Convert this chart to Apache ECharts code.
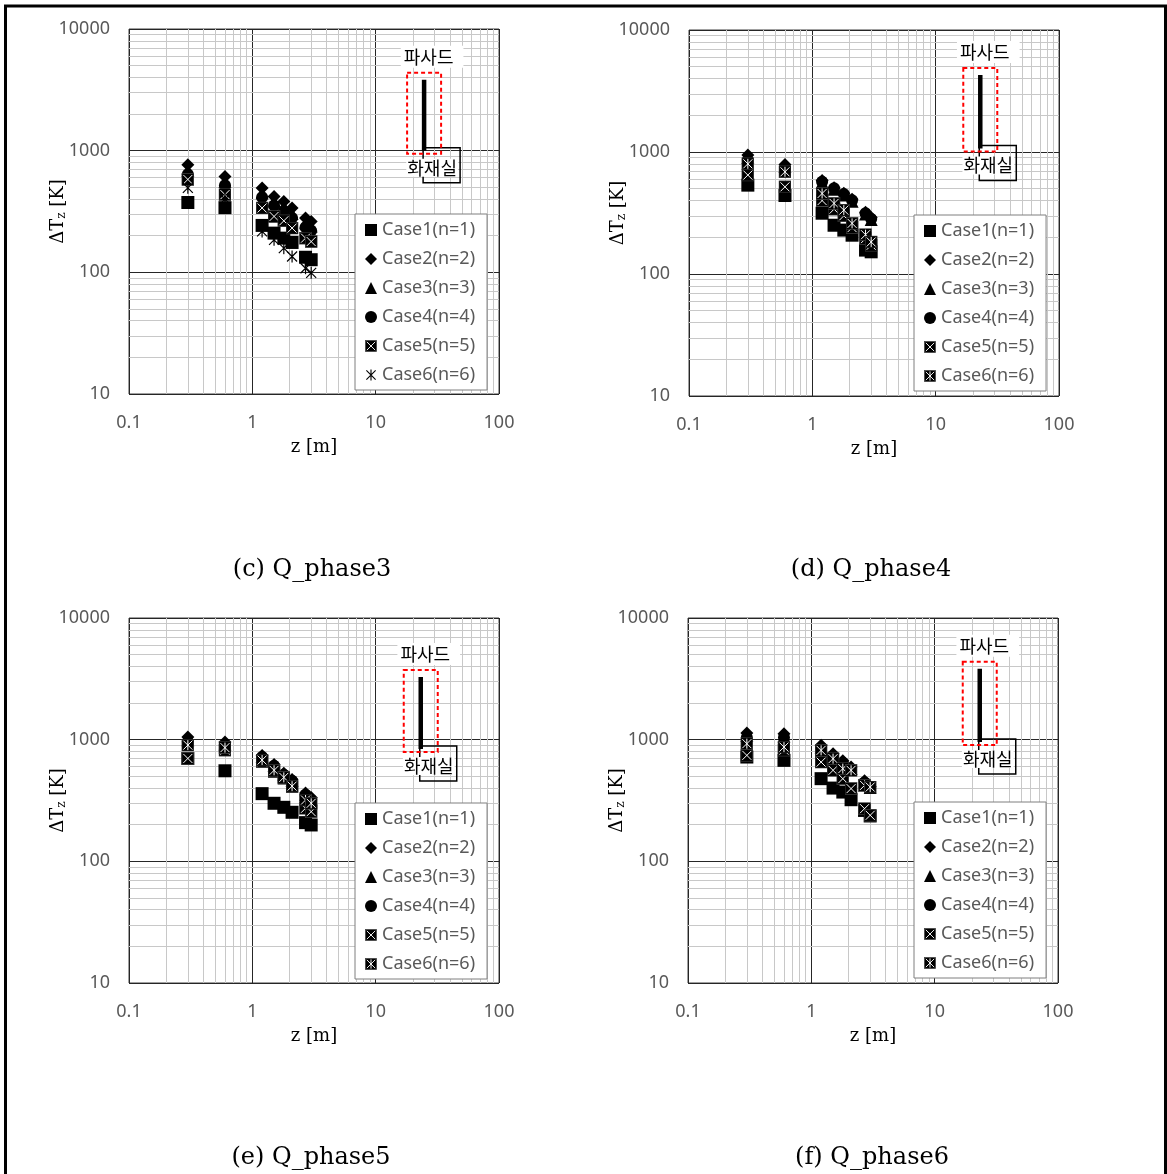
<!DOCTYPE html>
<html>
<head>
<meta charset="utf-8">
<script src="https://cdn.jsdelivr.net/npm/echarts@6/dist/echarts.min.js"></script>
<style>
  html, body { margin: 0; padding: 0; background: #fff; }
  #chart { width: 1167px; height: 1174px; }
</style>
</head>
<body>
<div id="chart"></div>
<script>
// distance from the floor (m)
const zValues = [0.3, 0.6, 1.2, 1.5, 1.8, 2.1, 2.7, 3.0];
const caseNames = ['Case1(n=1)', 'Case2(n=2)', 'Case3(n=3)', 'Case4(n=4)', 'Case5(n=5)', 'Case6(n=6)'];
const panelTitles = ['(c) Q_phase3', '(d) Q_phase4', '(e) Q_phase5', '(f) Q_phase6'];

// ΔTz [K], one row per case
const phase3 = [
  [375, 340, 243, 210, 191, 176, 133, 127],
  [766, 614, 493, 420, 383, 338, 279, 262],
  [690, 560, 450, 385, 350, 305, 255, 240],
  [640, 520, 415, 355, 320, 280, 235, 220],
  [580, 435, 338, 288, 265, 231, 191, 179],
  [495, 400, 217, 185, 158, 135, 108, 99]
];
const phase4 = [
  [535, 440, 315, 251, 229, 208, 157, 152],
  [943, 790, 585, 510, 460, 410, 320, 290],
  [900, 760, 565, 495, 445, 395, 310, 280],
  [860, 740, 570, 505, 452, 403, 315, 282],
  [647, 518, 400, 340, 300, 240, 195, 172],
  [800, 688, 457, 379, 334, 260, 210, 183]
];
const phase5 = [
  [700, 555, 360, 300, 278, 253, 208, 199],
  [1054, 959, 740, 625, 530, 470, 365, 335],
  [1000, 920, 730, 615, 520, 465, 355, 325],
  [960, 900, 719, 610, 515, 460, 352, 320],
  [701, 820, 658, 545, 481, 410, 273, 256],
  [902, 860, 680, 560, 490, 415, 319, 300]
];
const phase6 = [
  [720, 676, 478, 400, 371, 321, 262, 236],
  [1133, 1120, 898, 767, 672, 596, 460, 413],
  [1080, 1070, 870, 745, 655, 580, 450, 405],
  [1040, 1040, 860, 735, 645, 575, 445, 400],
  [743, 820, 654, 560, 478, 396, 271, 239],
  [927, 869, 817, 698, 578, 560, 421, 408]
];
const phases = [phase3, phase4, phase5, phase6];

// facade marker line (x, bottom, top) per panel
const facadeX = [24.7, 23.0, 23.2, 23.2];
const facadeBottom = [1000, 1070, 840, 955];
const facadeTop = [3830, 4280, 3270, 3830];

// minor grid lines
const xMinor = [0.2, 0.3, 0.4, 0.5, 0.6, 0.7, 0.8, 0.9, 2, 3, 4, 5, 6, 7, 8, 9, 20, 30, 40, 50, 60, 70, 80, 90];
const yMinor = [20, 30, 40, 50, 60, 70, 80, 90, 200, 300, 400, 500, 600, 700, 800, 900,
                2000, 3000, 4000, 5000, 6000, 7000, 8000, 9000];

const grids = [
  { left: 129, top: 29, width: 370, height: 365 },
  { left: 689, top: 30, width: 370, height: 366 },
  { left: 129, top: 618, width: 370, height: 365 },
  { left: 688, top: 618, width: 370, height: 365 }
];
const legendPos = [[355, 214], [914, 215], [355, 803], [914, 802]];
const titlePos = [[312, 570], [871, 570], [311, 1158], [872, 1158]];

function svgIcon(body) {
  const svg = "<svg xmlns='http://www.w3.org/2000/svg' width='26' height='26' viewBox='0 0 26 26'>" + body + "</svg>";
  return 'image://data:image/svg+xml;charset=utf-8,' + encodeURIComponent(svg);
}
const boxX = svgIcon("<rect x='1' y='1' width='24' height='24' fill='#000' stroke='#404040' stroke-width='1.5'/>" +
  "<path d='M4 4L22 22M22 4L4 22' stroke='#fff' stroke-width='2'/>");
const boxStar = svgIcon("<rect x='1' y='1' width='24' height='24' fill='#000' stroke='#404040' stroke-width='1.5'/>" +
  "<path d='M4 4L22 22M22 4L4 22M13 3V23' stroke='#fff' stroke-width='2'/>");
const star = svgIcon("<path d='M3 3L23 23M23 3L3 23M13 1V25' stroke='#000' stroke-width='2.4'/>");

function symbolsFor(p) {
  return ['rect', 'diamond', 'triangle', 'circle', boxX, p === 0 ? star : boxStar];
}
const symbolSizes = [13, 13, 13, 12, 13, 13];

const chart = echarts.init(document.getElementById('chart'));

const tickFont = { fontFamily: 'Noto Sans', fontSize: 18, color: '#595959' };
const series = [];
const xAxes = [];
const yAxes = [];
const legends = [];

grids.forEach((g, p) => {
  xAxes.push({
    type: 'log', logBase: 10, min: 0.1, max: 100, gridIndex: p,
    axisLine: { show: false }, axisTick: { show: false },
    splitLine: { show: true, lineStyle: { color: '#262626', width: 1 } },
    axisLabel: Object.assign({ margin: 20, formatter: v => String(v) }, tickFont),
    name: 'z [m]', nameLocation: 'middle', nameGap: 44,
    nameTextStyle: { fontFamily: 'DejaVu Serif', fontSize: 18, color: '#000' }
  });
  yAxes.push({
    type: 'log', logBase: 10, min: 10, max: 10000, gridIndex: p,
    axisLine: { show: false }, axisTick: { show: false },
    splitLine: { show: true, lineStyle: { color: '#262626', width: 1 } },
    axisLabel: Object.assign({ margin: 19, formatter: v => String(v) }, tickFont),
    name: '{a|ΔT}{s|z}{a| [K]}', nameLocation: 'middle', nameGap: 61,
    nameMoveOverlap: false,
    nameTextStyle: {
      rich: {
        a: { fontFamily: 'DejaVu Serif', fontSize: 18, color: '#000' },
        s: { fontFamily: 'DejaVu Serif', fontSize: 12, color: '#000', padding: [8, 0, 0, 0] }
      }
    }
  });

  // minor grid
  series.push({
    type: 'line', xAxisIndex: p, yAxisIndex: p, data: [], silent: true, z: 1,
    markLine: {
      z: 1, silent: true, symbol: ['none', 'none'], label: { show: false },
      lineStyle: { color: '#c8c8c8', width: 1, type: 'solid' },
      emphasis: { disabled: true },
      data: xMinor.map(v => ({ xAxis: v })).concat(yMinor.map(v => ({ yAxis: v })))
    }
  });

  const syms = symbolsFor(p);
  phases[p].forEach((vals, k) => {
    series.push({
      name: caseNames[k], type: 'scatter', xAxisIndex: p, yAxisIndex: p,
      symbol: syms[k], symbolSize: symbolSizes[k],
      itemStyle: { color: '#000', opacity: 1 },
      emphasis: { disabled: true },
      z: 3,
      data: zValues.map((z, i) => [z, vals[i]])
    });
  });

  // facade line
  series.push({
    type: 'line', xAxisIndex: p, yAxisIndex: p, silent: true, z: 3,
    symbol: 'none', lineStyle: { color: '#000', width: 4.5 },
    data: [[facadeX[p], facadeBottom[p]], [facadeX[p], facadeTop[p]]]
  });

  legends.push({
    z: 10,
    orient: 'vertical', left: legendPos[p][0], top: legendPos[p][1],
    padding: [7, 12, 6, 10], backgroundColor: '#fff',
    borderColor: '#7f7f7f', borderWidth: 1, borderRadius: 0,
    itemWidth: 12, itemHeight: 12, itemGap: 11, selectedMode: false,
    itemStyle: { opacity: 1 },
    textStyle: { fontFamily: 'Noto Sans', fontSize: 18, color: '#595959', lineHeight: 18 },
    data: caseNames.map((n, k) => ({ name: n, icon: syms[k] }))
  });
});

chart.setOption({
  animation: false,
  backgroundColor: '#fff',
  grid: grids.map(g => Object.assign({ show: true, borderColor: '#404040', borderWidth: 1, backgroundColor: '#fff' }, g)),
  xAxis: xAxes,
  yAxis: yAxes,
  legend: legends,
  series: series
});

// annotations anchored on the facade line
const gfx = [{
  type: 'rect', silent: true, z: 200,
  shape: { x: 5.5, y: 6, width: 1160, height: 1200 },
  style: { fill: 'none', stroke: '#000', lineWidth: 3 }
}];
panelTitles.forEach((t, p) => {
  gfx.push({
    type: 'text', silent: true, z: 200, x: titlePos[p][0], y: titlePos[p][1],
    style: { text: t, font: '24px "DejaVu Serif"', fill: '#000', align: 'center', verticalAlign: 'middle' }
  });
  const top = chart.convertToPixel({ gridIndex: p }, [facadeX[p], facadeTop[p]]);
  const bot = chart.convertToPixel({ gridIndex: p }, [facadeX[p], facadeBottom[p]]);
  const px = top[0];
  gfx.push({
    type: 'rect', silent: true, z: 150,
    shape: { x: px - 1, y: bot[1] - 3, width: 37, height: 35 },
    style: { fill: 'none', stroke: '#000', lineWidth: 1.5 }
  });
  gfx.push({
    type: 'text', silent: true, z: 160, x: px + 8, y: bot[1] + 17,
    style: {
      text: '화재실', font: '18px "Noto Sans CJK KR"', fill: '#000', align: 'center', verticalAlign: 'middle',
      backgroundColor: '#fff', padding: [0, 1, 0, 1]
    }
  });
  gfx.push({
    type: 'rect', silent: true, z: 170,
    shape: { x: px - 17, y: top[1] - 7, width: 34, height: bot[1] - top[1] + 10 },
    style: { fill: 'none', stroke: '#ff0000', lineWidth: 2, lineDash: [4, 3] }
  });
  gfx.push({
    type: 'text', silent: true, z: 160, x: px + 8, y: top[1] - 23,
    style: {
      text: '파사드', font: '18px "Noto Sans CJK KR"', fill: '#000', align: 'center', verticalAlign: 'middle',
      backgroundColor: '#fff', padding: [2, 10, 2, 3]
    }
  });
});
chart.setOption({ graphic: gfx });
</script>
</body>
</html>
